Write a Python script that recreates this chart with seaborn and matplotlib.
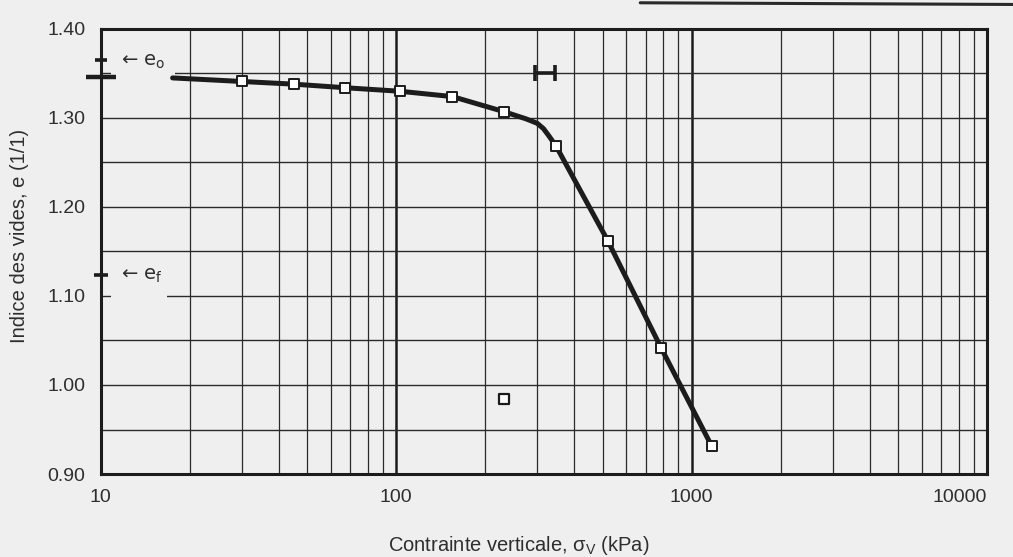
import numpy as np
import pandas as pd
import matplotlib
matplotlib.use("Agg")
import matplotlib.pyplot as plt
import seaborn as sns
from matplotlib.lines import Line2D
from matplotlib.ticker import MultipleLocator, FixedLocator, FuncFormatter, LogLocator, NullFormatter

# ---- data ----
sigma_pts = [30, 45, 67, 103, 155, 232, 348, 520, 787, 1170]
e_pts = [1.341, 1.338, 1.334, 1.330, 1.324, 1.307, 1.268, 1.162, 1.042, 0.931]

sigma_outlier = [232]
e_outlier = [0.984]

curve_sigma = [17.5, 30, 45, 67, 103, 155, 232, 275, 300, 315, 330, 348, 520, 787, 1170]
curve_e = [1.345, 1.341, 1.338, 1.334, 1.330, 1.324, 1.307, 1.299, 1.294, 1.288, 1.279, 1.268, 1.162, 1.042, 0.931]

e_o = 1.365
e_start = 1.346
e_f = 1.124

sigma_p_range = [294, 344]
e_p_bar = 1.351

x_ticks = [10, 100, 1000, 10000]
x_labels = ['10', '100', '1000', '10000']
y_ticks = [0.90, 1.00, 1.10, 1.20, 1.30, 1.40]

# ---- style ----
sns.set_theme(style="white")
plt.rcParams['font.family'] = ['Liberation Sans', 'DejaVu Sans']
plt.rcParams['mathtext.fontset'] = 'custom'
plt.rcParams['mathtext.rm'] = 'Liberation Sans'
plt.rcParams['mathtext.it'] = 'Liberation Sans'

bg = '#efefef'
ink = '#1c1c1c'
txt = '#2e2e2e'

fig = plt.figure(figsize=(10.13, 5.57), dpi=100, facecolor=bg)
ax = fig.add_axes([0.0995, 0.149, 0.875, 0.799])
ax.set_facecolor(bg)

ax.set_xscale('log')
ax.set_xlim(10, 10000)
ax.set_ylim(0.90, 1.40)

curve_df = pd.DataFrame({'sigma': curve_sigma, 'e': curve_e})
pts_df = pd.DataFrame({'sigma': sigma_pts, 'e': e_pts})
out_df = pd.DataFrame({'sigma': sigma_outlier, 'e': e_outlier})

sns.lineplot(data=curve_df, x='sigma', y='e', sort=False, color=ink, lw=3.6,
             ax=ax, zorder=4, estimator=None)
sns.scatterplot(data=pts_df, x='sigma', y='e', marker='s', s=60, color='white',
                edgecolor=ink, linewidth=1.4, ax=ax, zorder=5)
sns.scatterplot(data=out_df, x='sigma', y='e', marker='s', s=50, color='white',
                edgecolor=ink, linewidth=1.6, ax=ax, zorder=5)

# preconsolidation range bar
sp_c = np.sqrt(sigma_p_range[0] * sigma_p_range[1])
ax.errorbar([sp_c], [e_p_bar], xerr=[[sp_c - sigma_p_range[0]], [sigma_p_range[1] - sp_c]],
            fmt='none', ecolor=ink, elinewidth=2.6, capsize=5.5, capthick=2.6, zorder=5)

# e markers on the y-axis
ax.plot([10], [e_o], marker='_', ms=9, mew=2.6, color=ink, clip_on=False, zorder=6)
ax.plot([10], [e_start], marker='_', ms=21, mew=3.2, color=ink, clip_on=False, zorder=6)
ax.plot([10], [e_f], marker='_', ms=10, mew=2.6, color=ink, clip_on=False, zorder=6)

lab_kw = dict(fontsize=14, color=txt, va='center', ha='left', zorder=1.5,
              family=['DejaVu Sans'])
ax.text(11.7, e_o, '\u2190 e$_\\mathregular{o}$',
        bbox=dict(facecolor=bg, edgecolor='none', boxstyle='square,pad=0.5'), **lab_kw)
ax.text(11.7, e_f, '\u2190 e$_\\mathregular{f}$',
        bbox=dict(facecolor=bg, edgecolor='none', boxstyle='square,pad=0.3'), **lab_kw)
# the label box of e_f also masks the 1.10 grid line next to the axis
ax.text(11.05, 1.10, ' ' * 8,
        bbox=dict(facecolor=bg, edgecolor='none', boxstyle='square,pad=0.15'), **lab_kw)

# ticks & grid
ax.set_xticks(x_ticks, labels=x_labels)
ax.xaxis.set_minor_locator(LogLocator(base=10, subs=np.arange(2, 10)))
ax.xaxis.set_minor_formatter(NullFormatter())
ax.yaxis.set_major_locator(FixedLocator(y_ticks))
ax.yaxis.set_major_formatter(FuncFormatter(lambda v, p: f"{v:.2f}"))
ax.yaxis.set_minor_locator(MultipleLocator(0.05))

ax.set_axisbelow(True)
ax.grid(which='major', axis='x', color=ink, lw=1.8)
ax.grid(which='minor', axis='x', color='#2a2a2a', lw=0.9)
ax.grid(which='both', axis='y', color='#2a2a2a', lw=1.0)

ax.tick_params(axis='both', which='major', direction='out', length=5, width=1.2,
               color=ink, labelsize=14, labelcolor=txt)
ax.tick_params(axis='x', which='major', pad=6)
ax.tick_params(axis='y', which='major', pad=6)
ax.tick_params(which='minor', length=0)

for lab in ax.get_xticklabels():
    if lab.get_text() == '10000':
        lab.set_horizontalalignment('right')

for s in ax.spines.values():
    s.set_color(ink)
    s.set_linewidth(2.2)
    s.set_zorder(6)

ax.set_xlabel('Contrainte verticale, \u03c3$_\\mathregular{V}$ (kPa)', fontsize=14.5, color=txt)
ax.set_ylabel('Indice des vides, e (1/1)', fontsize=14.5, color=txt)
ax.xaxis.set_label_coords(0.471, -0.135)
ax.yaxis.set_label_coords(-0.081, 0.535)

# scan border fragment at the top right
fig.add_artist(Line2D([0.632, 1.0], [0.995, 0.992], transform=fig.transFigure,
                      color='#2a2a2a', lw=2.2))

fig.savefig('out.png', dpi=100, facecolor=bg)
